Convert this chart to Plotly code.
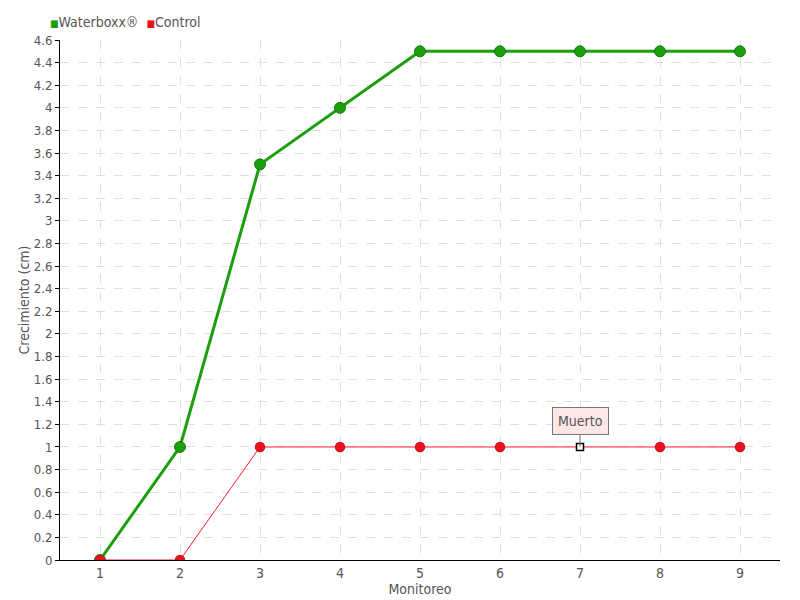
import plotly.graph_objects as go

monitoreo = [1, 2, 3, 4, 5, 6, 7, 8, 9]
waterboxx = [0, 1, 3.5, 4, 4.5, 4.5, 4.5, 4.5, 4.5]
control = [0, 0, 1, 1, 1, 1, 1, 1, 1]
y_ticks = [round(i * 0.2, 1) for i in range(24)]
y_labels = [("%g" % v) for v in y_ticks]
series_names = ["Waterboxx®", "Control"]
muerto_idx = 6  # Monitoreo 7

FONT = "Liberation Sans Narrow, DejaVu Sans Condensed, Roboto, sans-serif"
GREEN = "#1c9e0c"
GREEN_DARK = "#167a0e"
RED = "#ff1a2e"
RED_MK = "#e5121f"

fig = go.Figure()

fig.add_trace(go.Scatter(
    x=monitoreo, y=waterboxx, mode="lines+markers", name=series_names[0], showlegend=False,
    line=dict(color=GREEN, width=3),
    marker=dict(size=11, color=GREEN, line=dict(color=GREEN_DARK, width=1)),
))

ctrl_symbols = ["circle"] * len(control)
ctrl_colors = [RED_MK] * len(control)
ctrl_sizes = [9] * len(control)
ctrl_lc = [RED_MK] * len(control)
ctrl_symbols[muerto_idx] = "square"
ctrl_colors[muerto_idx] = "white"
ctrl_sizes[muerto_idx] = 7
ctrl_lc[muerto_idx] = "black"

fig.add_trace(go.Scatter(
    x=monitoreo, y=control, mode="lines+markers", name=series_names[1], showlegend=False,
    line=dict(color=RED, width=1),
    marker=dict(size=ctrl_sizes, color=ctrl_colors, symbol=ctrl_symbols, opacity=1,
                line=dict(color=ctrl_lc, width=1.5)),
))

# legend drawn as text in the top margin
legend_text = ("<span style='color:%s;font-size:10px'>■</span>%s  "
               "<span style='color:%s;font-size:10px'>■</span>%s") % (
    GREEN, series_names[0], RED_MK, series_names[1])
fig.add_annotation(
    xref="paper", yref="paper", x=-0.017, y=1.0, xanchor="left", yanchor="bottom",
    yshift=8, showarrow=False, text=legend_text,
    font=dict(family=FONT, size=14, color="#555"),
)

fig.add_annotation(
    x=monitoreo[muerto_idx], y=control[muerto_idx], text="Muerto",
    showarrow=True, ax=0, ay=-26, arrowhead=0, arrowwidth=1, arrowcolor="#777",
    bgcolor="#fde6e6", bordercolor="#777", borderwidth=1, borderpad=5,
    font=dict(family=FONT, size=14, color="#555"),
)

fig.update_layout(
    width=800, height=600,
    margin=dict(l=60, r=20, t=40, b=40, autoexpand=False),
    paper_bgcolor="white", plot_bgcolor="white",
    font=dict(family=FONT, size=14, color="#555"),
    showlegend=False,
    xaxis=dict(
        range=[0.5, 9.5], tickvals=monitoreo, ticktext=[str(m) for m in monitoreo],
        showline=True, linecolor="black", linewidth=1,
        showgrid=True, gridcolor="#e0e0e0", griddash="dash", gridwidth=1,
        zeroline=False, ticks="", ticklen=0, automargin=False,
        title=dict(text="Monitoreo", standoff=0, font=dict(size=14, color="#555")),
    ),
    yaxis=dict(
        range=[0, 4.6], tickvals=y_ticks, ticktext=y_labels,
        showline=True, linecolor="black", linewidth=1,
        showgrid=True, gridcolor="#e0e0e0", griddash="dash", gridwidth=1,
        zeroline=False, ticks="outside", ticklen=4, tickcolor="black", automargin=False,
        tickfont=dict(size=13),
        title=dict(text="Crecimiento (cm)", standoff=0, font=dict(size=14, color="#555")),
    ),
)

fig.write_html("out.html", config={"displayModeBar": False},
               post_script="document.body.style.margin='0';")
